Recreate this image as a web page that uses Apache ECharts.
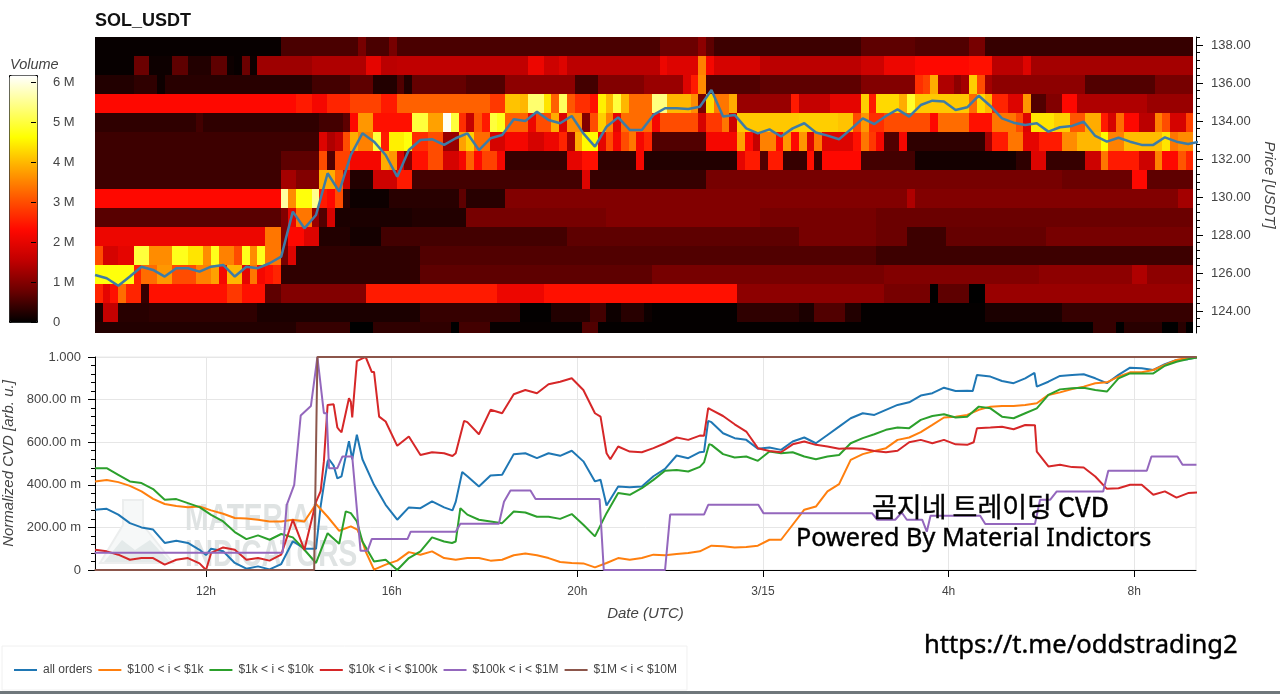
<!DOCTYPE html>
<html><head><meta charset="utf-8">
<style>html,body{margin:0;padding:0;background:#fff}#c{width:1280px;height:694px}</style>
<script src="https://cdn.jsdelivr.net/npm/echarts@6/dist/echarts.min.js"></script>
</head><body><div id="c"></div>
<script>
// ---------- heatmap: traded volume (M) per 1-USDT bin, runs of [last 10-min column, volume]
const vol138=[[23,.05],[33,.55],[34,.9],[37,.55],[38,.9],[72,.55],[77,.8],[78,1.1],[79,.7],[98,.45],[105,.7],[112,.6],[114,.9],[141,.4]];
const vol137=[[4,.05],[6,.8],[9,.1],[11,.7],[14,.25],[16,.7],[17,.1],[18,.05],[19,.8],[20,.1],[27,1.25],[34,1.4],[36,2.0],[38,1.5],[55,1.55],[57,2.1],[59,1.7],[60,1.9],[72,1.5],[73,2.1],[77,1.9],[78,3.5],[79,2.2],[85,1.8],[98,1.5],[101,1.7],[105,2.1],[112,2.3],[115,2.4],[119,1.5],[120,1.9],[141,1.3]];
const vol136=[[4,.25],[7,.35],[8,.1],[27,.3],[32,.5],[35,.7],[38,.25],[39,.6],[40,.25],[47,.75],[52,.6],[61,1.1],[64,.5],[70,1.0],[75,1.2],[76,1.9],[77,2.5],[78,3.6],[85,.6],[98,.7],[105,1.0],[106,2.7],[107,2.9],[108,3.9],[110,1.4],[111,1.1],[112,1.3],[113,4.2],[114,3.0],[115,1.3],[127,1.1],[136,.6],[141,.9]];
const vol135=[[25,2.3],[27,2.5],[29,2.2],[32,2.6],[36,2.9],[38,2.5],[50,3.2],[52,2.8],[54,4.1],[55,4.0],[57,5.3],[58,4.4],[59,3.2],[60,5.2],[61,3.1],[63,2.7],[64,2.4],[65,4.5],[66,4.0],[67,5.0],[68,4.0],[71,3.3],[73,5.4],[76,4.0],[77,3.6],[78,.9],[79,4.3],[81,3.4],[82,3.9],[89,1.2],[90,2.5],[94,1.6],[98,2.0],[99,4.2],[100,2.5],[103,4.3],[104,3.9],[105,4.9],[112,4.15],[113,3.3],[114,4.3],[115,4.0],[117,2.6],[119,1.9],[120,3.7],[122,.6],[124,1.0],[126,2.3],[135,1.4],[141,1.2]];
const vol134=[[12,.35],[13,.5],[28,.35],[31,.5],[32,.7],[33,2.3],[35,3.7],[40,2.4],[42,5.0],[44,3.8],[45,6.1],[46,5.0],[47,2.7],[48,1.6],[49,3.1],[50,2.5],[51,5.0],[52,4.8],[55,3.2],[56,2.1],[58,3.0],[59,3.9],[60,1.9],[62,3.6],[63,1.0],[64,3.0],[65,4.2],[66,3.5],[67,2.0],[71,3.3],[72,2.2],[77,3.0],[78,1.8],[80,2.8],[81,3.4],[82,1.7],[90,4.15],[95,4.2],[97,4.1],[98,3.0],[99,3.7],[101,2.7],[107,3.0],[108,2.3],[112,3.3],[115,2.4],[118,3.4],[119,3.0],[120,1.9],[123,4.4],[125,4.2],[127,3.1],[129,3.9],[130,2.5],[131,1.8],[132,3.3],[134,2.3],[136,1.5],[137,3.5],[138,3.0],[140,1.8],[141,2.9]];
const vol133=[[28,.45],[29,1.9],[30,1.4],[31,1.6],[32,3.0],[33,3.9],[35,3.5],[36,5.0],[37,2.5],[39,4.5],[40,4.7],[42,2.7],[44,3.0],[46,1.2],[47,3.8],[48,4.2],[50,3.3],[52,1.8],[55,2.2],[57,1.8],[59,2.1],[60,2.6],[61,1.3],[62,3.9],[64,4.6],[65,2.0],[66,3.0],[67,2.2],[68,3.0],[69,3.4],[70,2.2],[71,2.6],[78,.6],[82,2.2],[83,3.8],[84,2.3],[85,1.6],[87,3.5],[88,2.3],[89,3.7],[90,2.3],[91,3.7],[92,1.9],[93,3.4],[97,1.9],[98,2.4],[99,3.4],[100,2.8],[101,2.2],[103,.6],[104,2.2],[114,.35],[115,1.3],[117,2.5],[119,3.4],[121,2.0],[124,2.5],[126,3.6],[129,4.0],[130,4.6],[132,3.5],[137,4.05],[138,4.4],[139,3.4],[141,3.6]];
const vol132=[[23,.45],[28,.7],[29,3.0],[30,.6],[31,2.9],[32,2.9],[36,2.2],[37,3.9],[38,3.7],[39,1.9],[40,1.0],[42,2.4],[44,3.0],[46,1.8],[47,2.2],[48,3.2],[49,2.3],[51,2.9],[52,2.2],[60,.4],[62,2.0],[64,2.4],[69,.35],[70,2.2],[82,.25],[83,2.0],[85,2.5],[86,.6],[88,2.5],[91,.4],[92,2.4],[93,.4],[98,2.3],[105,.5],[118,.15],[120,.35],[122,1.9],[127,.4],[129,1.7],[130,3.4],[134,2.5],[136,1.7],[137,3.5],[139,2.3],[140,3.1],[141,2.6]];
const vol131=[[23,.45],[25,1.3],[28,1.0],[30,3.9],[31,3.2],[32,1.7],[35,.25],[38,1.7],[40,2.5],[62,.5],[63,1.9],[78,.4],[124,.9],[133,.8],[135,2.3],[141,.7]];
const vol130=[[23,2.3],[24,5.6],[25,3.6],[27,4.7],[28,5.5],[29,2.5],[30,2.3],[31,3.0],[32,.3],[37,.1],[46,.3],[47,.7],[52,.3],[104,1.0],[105,1.4],[139,1.0],[141,1.3]];
const vol129=[[23,.65],[24,1.0],[25,2.0],[27,3.4],[28,1.2],[29,.6],[30,1.8],[40,.2],[47,.25],[65,.9],[85,1.0],[100,.9],[141,.8]];
const vol128=[[21,2.1],[23,3.4],[24,1.0],[26,2.3],[28,1.9],[32,.25],[36,.15],[60,.5],[90,.7],[100,.9],[104,.8],[109,.45],[122,.75],[141,.9]];
const vol127=[[0,3.0],[2,1.8],[4,2.0],[6,5.0],[9,3.6],[11,4.8],[13,4.4],[14,3.6],[15,4.8],[17,3.5],[18,3.0],[19,4.8],[20,3.6],[21,4.8],[23,3.4],[24,.9],[25,1.9],[41,.35],[100,.6],[141,.45]];
const vol126=[[4,4.7],[5,2.6],[7,3.3],[9,3.7],[12,3.0],[14,3.5],[15,3.8],[16,2.2],[18,4.0],[19,2.0],[20,3.4],[21,2.2],[22,2.4],[23,2.6],[41,.35],[71,.7],[101,.9],[121,1.0],[133,1.1],[135,1.4],[141,1.1]];
const vol125=[[0,2.6],[1,2.0],[2,2.4],[3,3.3],[5,2.6],[6,.4],[16,2.4],[18,2.8],[21,2.4],[23,.7],[34,1.0],[51,2.5],[57,2.1],[82,2.4],[101,1.1],[107,.9],[108,0],[112,.7],[114,0],[141,1.2]];
const vol124=[[0,.2],[2,1.6],[6,.3],[20,.35],[41,.2],[54,.4],[58,.02],[63,.25],[65,.5],[67,.1],[70,.3],[71,.1],[82,.03],[90,.35],[92,.2],[96,.6],[98,.25],[114,.03],[124,.2],[141,.4]];
const vol123=[[25,.25],[32,.4],[35,0],[45,.35],[46,0],[50,.5],[62,.05],[64,.6],[128,.03],[131,.4],[132,0],[137,.3],[139,0],[140,.3],[141,0]];
const heatRows=[vol138,vol137,vol136,vol135,vol134,vol133,vol132,vol131,vol130,vol129,vol128,vol127,vol126,vol125,vol124,vol123];
const binCentres=[137.92,136.92,135.92,134.92,133.92,132.92,131.92,130.92,129.92,128.92,127.92,126.92,125.92,124.92,123.92,122.92];
const heatStartHour=9.608, cellHours=1/6, binUsd=1;

// ---------- lines: hours since 3/14 00:00
const hours=[9.61,9.86,10.11,10.36,10.61,10.86,11.11,11.36,11.61,11.86,12.11,12.37,12.62,12.87,13.12,13.37,13.62,13.87,14.12,14.37,14.62,14.87,15.12,15.37,15.62,15.87,16.12,16.37,16.62,16.87,17.13,17.38,17.63,17.88,18.13,18.38,18.63,18.88,19.13,19.38,19.63,19.88,20.13,20.38,20.63,20.88,21.13,21.39,21.64,21.89,22.14,22.39,22.64,22.89,23.14,23.39,23.64,23.89,24.14,24.39,24.64,24.89,25.14,25.39,25.64,25.89,26.15,26.4,26.65,26.9,27.15,27.4,27.65,27.9,28.15,28.4,28.65,28.9,29.15,29.4,29.65,29.9,30.15,30.4,30.66,30.91,31.16,31.41,31.66,31.91,32.16,32.41,32.66,32.91,33.16,33.41];
const price=[125.89,125.72,125.33,125.81,126.33,126.16,125.81,126.25,126.25,126.07,126.33,126.42,125.81,126.33,126.25,126.51,126.86,129.23,128.35,129.05,131.25,130.28,132.21,133.35,132.91,132.21,131.07,132.47,133.0,133.04,132.74,133.09,133.35,132.47,133.09,133.26,134.09,134.0,134.49,134.05,133.88,134.26,133.35,132.65,133.7,134.19,133.53,133.53,134.32,134.67,134.67,134.63,134.75,135.63,134.23,134.32,133.61,133.35,133.56,133.18,133.61,133.88,133.39,133.23,133.04,133.56,134.14,133.84,134.26,134.61,134.23,134.84,135.07,135.02,134.58,134.72,135.33,134.79,134.14,133.91,133.79,133.88,133.44,133.67,133.74,133.96,133.21,132.91,133.12,132.91,132.74,132.74,133.14,132.91,132.79,132.91];
const allOrders=[.283,.287,.26,.22,.2,.19,.127,.137,.127,.095,.1,.088,.033,.006,.017,.003,.028,.135,.1,.1,.51,.43,.6,.52,.4,.306,.236,.294,.29,.322,.294,.32,.44,.392,.444,.447,.544,.548,.525,.548,.536,.56,.51,.416,.303,.392,.389,.392,.44,.475,.5375,.525,.553,.694,.642,.619,.611,.569,.575,.564,.603,.622,.595,.634,.673,.7125,.736,.728,.752,.775,.7875,.819,.83,.856,.84,.842,.916,.908,.8875,.877,.9,.861,.884,.911,.916,.919,.9,.877,.916,.95,.947,.939,.966,.986,.99,1];
const from100=[.416,.423,.4125,.395,.369,.334,.31,.3,.295,.298,.28,.264,.244,.242,.236,.228,.228,.236,.228,.31,.25,.184,.205,.134,.002,.025,.044,.084,.072,.0875,.056,.048,.056,.056,.044,.048,.069,.077,.069,.056,.0375,.033,.031,.0125,.033,.056,.048,.056,.072,.069,.075,.08,.0875,.114,.111,.106,.108,.114,.142,.142,.2125,.283,.298,.369,.403,.517,.544,.559,.572,.611,.622,.647,.681,.716,.72,.728,.752,.767,.77,.77,.775,.783,.822,.834,.85,.861,.877,.881,.908,.928,.928,.939,.9625,.986,.997,1];
const from1k=[.478,.478,.447,.416,.408,.38,.33,.333,.314,.295,.259,.228,.178,.145,.1625,.142,.169,.153,.095,.033,.173,.123,.267,.134,.04,.048,0,.056,.0875,.153,.134,.134,.26,.236,.228,.22,.275,.27,.25,.25,.24,.2625,.2125,.158,.267,.361,.353,.384,.423,.466,.469,.4625,.484,.5875,.544,.528,.533,.5125,.556,.548,.553,.533,.52,.533,.54,.595,.619,.6375,.658,.669,.666,.705,.723,.731,.716,.72,.767,.759,.72,.7125,.736,.759,.822,.848,.853,.856,.845,.8375,.9,.923,.923,.923,.959,.978,.99,1];
const from10k=[.095,.0875,.072,.048,.056,.056,.025,.048,.056,.031,.08,.106,.095,.048,.056,.044,.072,.236,.095,.32,.775,.658,.79,.994,.93,.697,.583,.627,.54,.553,.548,.548,.694,.6375,.752,.736,.825,.845,.83,.872,.884,.9,.845,.736,.548,.58,.556,.553,.572,.595,.622,.611,.631,.752,.723,.684,.65,.572,.559,.553,.59,.603,.5875,.58,.569,.572,.569,.559,.553,.56,.6,.611,.595,.611,.59,.5875,.673,.669,.673,.661,.681,.556,.486,.494,.483,.481,.439,.381,.384,.4,.4,.353,.369,.34,.361,.364];
// extra points read at the sharp turns, between the regular readings: [hour, value]
const allOrdersTurns=[[12,.07],[14.47,.3],[14.54,.4],[14.65,.52],[14.75,.49],[14.83,.43],[14.92,.44],[15.08,.605],[15.15,.52],[15.25,.635],[17.31,.28],[17.52,.46],[20.5,.424],[22.73,.555],[22.82,.7],[28.52,.84],[28.61,.915],[29.85,.925],[29.93,.86]];
const from100Turns=[[15.26,.19],[15.44,.087]];
const from1kTurns=[[15.01,.275],[15.25,.228],[17.3,.127],[17.48,.29],[22.73,.505],[22.84,.59]];
const from10kTurns=[[12,0],[14.47,.37],[14.54,.511],[14.65,.783],[14.75,.778],[14.83,.669],[14.92,.647],[15.08,.806],[15.15,.716],[15.25,.981],[15.44,1],[15.57,.93],[15.73,.72],[17.31,.535],[17.56,.7],[20.5,.72],[20.71,.52],[22.73,.63],[22.82,.76],[28.54,.6],[28.61,.665],[29.86,.68],[29.93,.56]];
const from100k=[[9.6,.081],[13.65,.081],[13.74,.306],[13.9,.4],[14.04,.725],[14.26,.77],[14.4,1],[14.54,.736],[14.6,.736],[14.65,.478],[14.83,.478],[14.94,.533],[15.15,.533],[15.33,.09],[15.48,.09],[15.57,.145],[16.34,.145],[16.41,.18],[17.38,.18],[17.48,.217],[18.31,.217],[18.42,.32],[18.56,.373],[18.99,.373],[19.1,.333],[20.48,.333],[20.57,0],[21.89,0],[22,.26],[22.73,.26],[22.82,.306],[23.9,.306],[24.01,.267],[26.35,.267],[26.46,.236],[26.85,.236],[26.99,.27],[27.1,.236],[27.43,.236],[27.53,.18],[27.61,.255],[28.68,.255],[28.79,.216],[29.86,.216],[29.97,.33],[30.19,.33],[30.33,.369],[31.33,.369],[31.44,.466],[32.27,.466],[32.37,.533],[32.93,.533],[33.04,.494],[33.34,.494]];
const from1m=[[9.6,0],[14.33,0],[14.4,1],[33.34,1]];

const seriesNames=['all orders','$100 < i < $1k','$1k < i < $10k','$10k < i < $100k','$100k < i < $1M','$1M < i < $10M'];
const seriesColors=['#1f77b4','#ff7f0e','#2ca02c','#d62728','#9467bd','#8c564b'];

// ---------- axis ticks
const timeTicks=[12,16,20,24,28,32];
const timeLabels=['12h','16h','20h','3/15','4h','8h'];
const priceTicks=[124,126,128,130,132,134,136,138];
const priceMinor=[123.2,123.6,124,124.4,124.8,125.2,125.6,126,126.4,126.8,127.2,127.6,128,128.4,128.8,129.2,129.6,130,130.4,130.8,131.2,131.6,132,132.4,132.8,133.2,133.6,134,134.4,134.8,135.2,135.6,136,136.4,136.8,137.2,137.6,138,138.4];
const volumeTicks=[0,1,2,3,4,5,6];
const cvdLabels={0:'0',0.2:'200.00 m',0.4:'400.00 m',0.6:'600.00 m',0.8:'800.00 m',1:'1.000'};

const FONT='"Liberation Sans",Arial,sans-serif';
const INK='#444444';
const xMin=9.608,xMax=33.33;

const cells=[];
heatRows.forEach((runs,r)=>{let c=0;runs.forEach(([last,v])=>{for(;c<=last;c++)cells.push([heatStartHour+c*cellHours,binCentres[r],v]);});});

const chart=echarts.init(document.getElementById('c'),null,{renderer:'canvas'});
const hotStops=['#000000','#680000','#c00000','#ff0800','#ff5500','#ffa800','#ffff00','#ffff80','#ffffff'];
const lineSeries=(name,i,data,extra)=>Object.assign({name,type:'line',xAxisIndex:1,yAxisIndex:2,data,symbol:'none',
  lineStyle:{color:seriesColors[i],width:2},itemStyle:{color:seriesColors[i]},z:3+i,animation:false},extra||{});
const zipT=a=>a.map((v,i)=>[hours[i],v]);
const withTurns=(vals,turns)=>zipT(vals).concat(turns).sort((a,b)=>a[0]-b[0]);

chart.setOption({
  animation:false,backgroundColor:'#ffffff',textStyle:{fontFamily:FONT},
  title:{text:'SOL_USDT',left:95,top:12,padding:0,textStyle:{fontFamily:FONT,fontSize:18,fontWeight:'bold',color:'#111'}},
  grid:[
    {left:95,right:84,top:37,height:296,outerBoundsMode:'none',containLabel:false},
    {left:95,right:84,top:357,height:213,show:true,borderColor:'#e8e8e8',borderWidth:1,backgroundColor:'#fff',outerBoundsMode:'none',containLabel:false},
    {left:31,width:1,top:75,height:247,outerBoundsMode:'none',containLabel:false}
  ],
  xAxis:[
    {gridIndex:0,type:'value',min:xMin,max:xMax,show:false},
    {gridIndex:1,type:'value',min:xMin,max:xMax,
      name:'Date (UTC)',nameLocation:'middle',nameGap:36,nameTextStyle:{fontStyle:'italic',fontSize:15,color:INK,fontFamily:FONT},
      axisLine:{onZero:false,lineStyle:{color:'#000',width:1}},
      axisTick:{length:7,customValues:timeTicks,lineStyle:{color:'#000'}},
      axisLabel:{customValues:timeTicks,fontSize:12,color:INK,margin:16,formatter:v=>timeLabels[timeTicks.indexOf(v)]},
      splitLine:{show:true,lineStyle:{color:'#e6e6e6',width:1}}},
    {gridIndex:2,type:'value',min:0,max:1,show:false}
  ],
  yAxis:[
    {gridIndex:0,type:'value',position:'right',min:122.84,max:138.42,
      name:'Price [USDT]',nameLocation:'middle',nameRotate:-90,nameGap:62,nameTextStyle:{fontStyle:'italic',fontSize:15,color:INK,fontFamily:FONT},
      axisLine:{show:true,lineStyle:{color:'#000',width:1}},
      axisTick:{show:true,length:7,customValues:priceTicks,lineStyle:{color:'#000'}},
      axisLabel:{customValues:priceTicks,fontSize:13,color:INK,margin:15,formatter:v=>v.toFixed(2)},
      splitLine:{show:false}},
    {gridIndex:0,type:'value',position:'right',min:122.84,max:138.42,
      axisLine:{show:false},axisLabel:{show:false},splitLine:{show:false},
      axisTick:{show:true,length:4,customValues:priceMinor,lineStyle:{color:'#000'}}},
    {gridIndex:1,type:'value',min:0,max:1,interval:0.2,
      name:'Normalized CVD [arb. u.]',nameLocation:'middle',nameRotate:90,nameGap:73,nameTextStyle:{fontStyle:'italic',fontSize:15,color:INK,fontFamily:FONT},
      axisLine:{show:true,onZero:false,lineStyle:{color:'#000',width:1}},
      axisTick:{show:true,length:7,lineStyle:{color:'#000'}},
      minorTick:{show:true,splitNumber:5,length:4,lineStyle:{color:'#000'}},
      axisLabel:{fontSize:13,color:INK,margin:14,formatter:v=>cvdLabels[+v.toFixed(1)]},
      splitLine:{show:true,lineStyle:{color:'#e6e6e6',width:1}}},
    {gridIndex:2,type:'value',position:'right',min:0,max:6.18,zlevel:2,
      axisLine:{show:false},splitLine:{show:false},
      axisTick:{show:true,length:5,customValues:volumeTicks,lineStyle:{color:'#000'}},
      axisLabel:{customValues:volumeTicks,fontSize:13,color:INK,margin:21,formatter:v=>v===0?'0':v+' M'}}
  ],
  visualMap:{type:'continuous',seriesIndex:0,dimension:2,min:0,max:6.18,left:9,top:75,itemWidth:28,itemHeight:247,
    calculable:false,hoverLink:false,text:null,padding:0,borderWidth:1,borderColor:'#000',inRange:{color:hotStops},z:1},
  legend:{left:2,top:646,orient:'horizontal',padding:[18,10,14,12],itemGap:6,itemWidth:23,itemHeight:2,
    borderColor:'#f0f0f0',borderWidth:1,icon:'rect',selectedMode:false,data:seriesNames,
    textStyle:{fontFamily:FONT,fontSize:12,color:INK,padding:[0,0,0,1]}},
  graphic:{elements:[
    {type:'polygon',z:1,shape:{points:[[123,500],[143,500],[143,525],[173,563],[100,563],[123,525]]},style:{fill:'#f6f8f8',stroke:'#eceeee',lineWidth:2}},
    {type:'polygon',z:1,shape:{points:[[104,562],[122,540],[135,550],[150,540],[170,562]]},style:{fill:'#e4eaea'}},
    {type:'text',z:1,x:185,y:501,scaleX:.76,style:{text:'MATERIAL',fontFamily:FONT,fontWeight:'bold',fontSize:37,fill:'#dfe3e3'}},
    {type:'text',z:1,x:185,y:537,scaleX:.76,style:{text:'INDICATORS',fontFamily:FONT,fontWeight:'bold',fontSize:37,fill:'#dfe3e3'}},
    {type:'text',z:50,x:10,y:57,style:{text:'Volume',fontFamily:FONT,fontStyle:'italic',fontSize:14.5,fill:INK}},
    {type:'text',z:60,x:872,y:493,style:{text:'곰지네 트레이딩 CVD',fontFamily:'"Noto Sans CJK KR"',fontSize:27,fill:'#000',stroke:'#000',lineWidth:.4}},
    {type:'text',z:60,x:796,y:526,style:{text:'Powered By Material Indictors',fontFamily:'"Noto Sans"',fontSize:25.2,fill:'#000',stroke:'#000',lineWidth:.4}},
    {type:'text',z:60,x:924,y:633,style:{text:'https://t.me/oddstrading2',fontFamily:'"Noto Sans"',fontSize:25.6,fill:'#000',stroke:'#000',lineWidth:.4}},
    {type:'rect',z:60,shape:{x:0,y:691,width:1280,height:3},style:{fill:'#6f777b'}}
  ]},
  series:[
    {type:'custom',name:'Volume',xAxisIndex:0,yAxisIndex:0,data:cells,encode:{x:0,y:1},progressive:0,animation:false,silent:true,clip:true,z:1,
      renderItem:(params,api)=>{
        const t=api.value(0),p=api.value(1);
        const a=api.coord([t,p+binUsd/2]),b=api.coord([t+cellHours,p-binUsd/2]);
        const x0=Math.round(a[0]),x1=Math.round(b[0]),y0=Math.round(a[1]),y1=Math.round(b[1]);
        const r=echarts.graphic.clipRectByRect({x:x0,y:y0,width:x1-x0,height:y1-y0},
          {x:params.coordSys.x,y:params.coordSys.y,width:params.coordSys.width,height:params.coordSys.height});
        return r&&{type:'rect',shape:r,style:{fill:api.visual('color')}};
      }},
    {type:'line',name:'Price',xAxisIndex:0,yAxisIndex:0,data:zipT(price),symbol:'none',lineStyle:{color:'#3d7ca6',width:2.5},z:5,animation:false},
    lineSeries(seriesNames[0],0,withTurns(allOrders,allOrdersTurns)),
    lineSeries(seriesNames[1],1,withTurns(from100,from100Turns)),
    lineSeries(seriesNames[2],2,withTurns(from1k,from1kTurns)),
    lineSeries(seriesNames[3],3,withTurns(from10k,from10kTurns)),
    lineSeries(seriesNames[4],4,from100k),
    lineSeries(seriesNames[5],5,from1m)
  ]
});
</script></body></html>
